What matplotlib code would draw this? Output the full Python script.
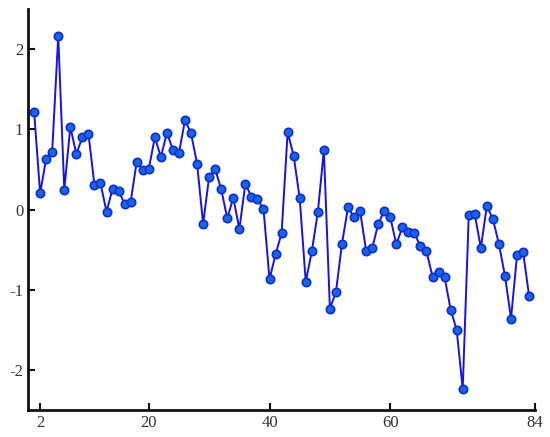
import matplotlib
matplotlib.use("Agg")
import matplotlib.pyplot as plt

x = list(range(1, 84))
y = [1.223, 0.202, 0.635, 0.723, 2.165, 0.248, 1.031, 0.694, 0.902, 0.948,
     0.302, 0.327, -0.027, 0.26, 0.235, 0.069, 0.098, 0.598, 0.49, 0.506,
     0.902, 0.656, 0.956, 0.748, 0.706, 1.115, 0.952, 0.569, -0.177, 0.41,
     0.502, 0.252, -0.11, 0.148, -0.244, 0.323, 0.156, 0.127, 0.006, -0.869,
     -0.56, -0.294, 0.965, 0.669, 0.14, -0.902, -0.523, -0.035, 0.74, -1.235,
     -1.031, -0.427, 0.027, -0.098, -0.019, -0.515, -0.485, -0.181, -0.015, -0.094,
     -0.435, -0.223, -0.285, -0.294, -0.46, -0.519, -0.84, -0.781, -0.844, -1.248,
     -1.502, -2.24, -0.073, -0.06, -0.477, 0.044, -0.119, -0.431, -0.827, -1.36,
     -0.569, -0.527, -1.081]
xticks = [2, 20, 40, 60, 84]
yticks = [-2, -1, 0, 1, 2]

plt.rcParams['font.family'] = ['Liberation Serif', 'DejaVu Serif']
fig = plt.figure(figsize=(5.5, 4.37), dpi=100)
ax = fig.add_axes([0.051, 0.062, 0.922, 0.917])
ax.plot(x, y, color='#1414e6', lw=1.4, marker='o', markersize=6,
        markerfacecolor='#1766e0', markeredgecolor='#0d2bd6', markeredgewidth=1.2)
ax.set_xlim(0, 84)
ax.set_ylim(-2.5, 2.5)
ax.set_xticks(xticks)
ax.set_yticks(yticks)
ax.set_xticklabels([str(t) for t in xticks])
ax.set_yticklabels([str(t) for t in yticks])
for s in ['top', 'right']:
    ax.spines[s].set_visible(False)
for s in ['left', 'bottom']:
    ax.spines[s].set_linewidth(2)
    ax.spines[s].set_color('#111111')
ax.tick_params(direction='in', length=5, width=1.5, labelsize=12, colors='#111111', labelcolor='#333333')
fig.savefig('out.png', dpi=100)
